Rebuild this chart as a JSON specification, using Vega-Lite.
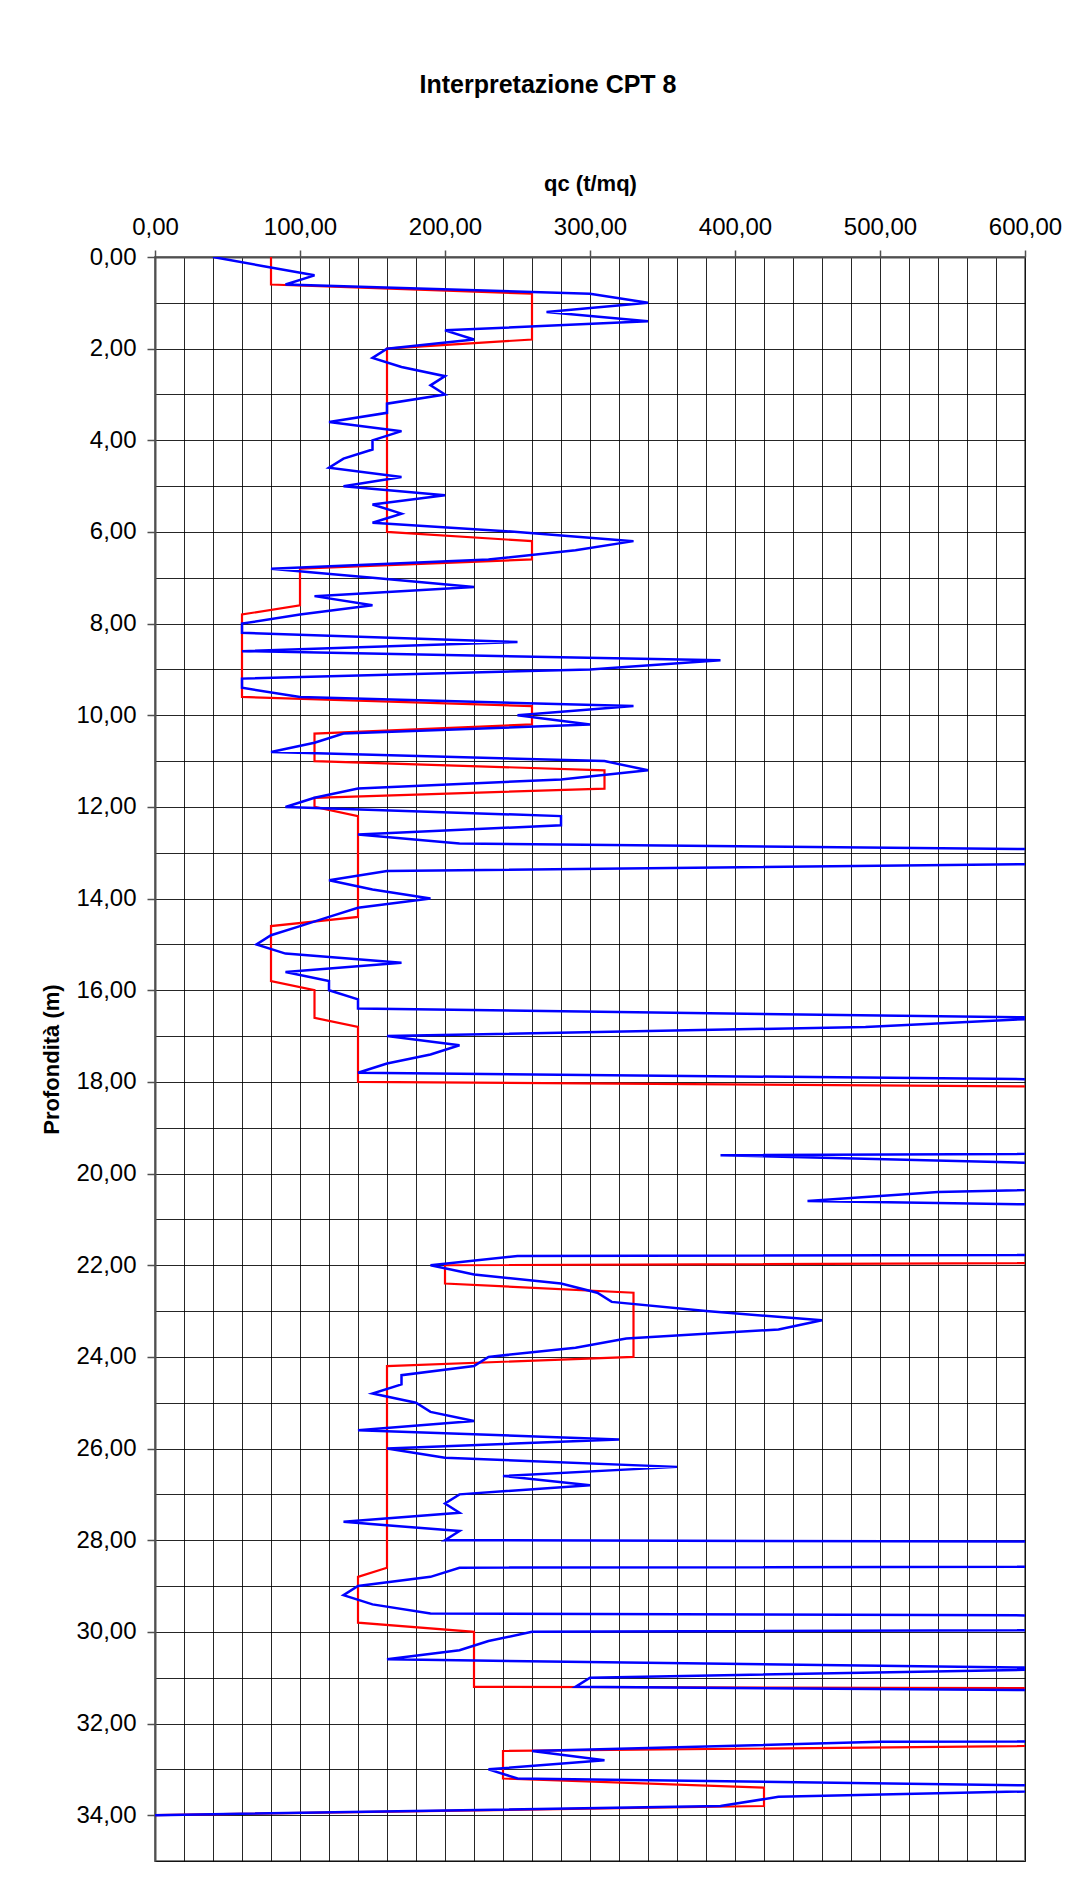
{
  "$schema": "https://vega.github.io/schema/vega-lite/v6.json",
  "width": 870,
  "height": 1604,
  "autosize": {"type": "none"},
  "padding": {"left": 155, "top": 257, "right": 52, "bottom": 34},
  "background": "white",
  "title": {"text": "Interpretazione CPT 8", "frame": "group", "anchor": "middle", "dx": -42, "offset": 74, "fontSize": 25, "font": "Liberation Sans", "fontWeight": "bold", "color": "#000000"},
  "datasets": {
    "qc": [
      {"z": 0.0, "qc": 40}, {"z": 0.2, "qc": 75}, {"z": 0.4, "qc": 110}, {"z": 0.6, "qc": 90}, {"z": 0.8, "qc": 300},
      {"z": 1.0, "qc": 340}, {"z": 1.2, "qc": 270}, {"z": 1.4, "qc": 340}, {"z": 1.6, "qc": 200}, {"z": 1.8, "qc": 220},
      {"z": 2.0, "qc": 160}, {"z": 2.2, "qc": 150}, {"z": 2.4, "qc": 170}, {"z": 2.6, "qc": 200}, {"z": 2.8, "qc": 190},
      {"z": 3.0, "qc": 200}, {"z": 3.2, "qc": 160}, {"z": 3.4, "qc": 160}, {"z": 3.6, "qc": 120}, {"z": 3.8, "qc": 170},
      {"z": 4.0, "qc": 150}, {"z": 4.2, "qc": 150}, {"z": 4.4, "qc": 130}, {"z": 4.6, "qc": 120}, {"z": 4.8, "qc": 170},
      {"z": 5.0, "qc": 130}, {"z": 5.2, "qc": 200}, {"z": 5.4, "qc": 150}, {"z": 5.6, "qc": 170}, {"z": 5.8, "qc": 150},
      {"z": 6.0, "qc": 250}, {"z": 6.2, "qc": 330}, {"z": 6.4, "qc": 290}, {"z": 6.6, "qc": 230}, {"z": 6.8, "qc": 80},
      {"z": 7.0, "qc": 150}, {"z": 7.2, "qc": 220}, {"z": 7.4, "qc": 110}, {"z": 7.6, "qc": 150}, {"z": 7.8, "qc": 100},
      {"z": 8.0, "qc": 60}, {"z": 8.2, "qc": 60}, {"z": 8.4, "qc": 250}, {"z": 8.6, "qc": 60}, {"z": 8.8, "qc": 390},
      {"z": 9.0, "qc": 300}, {"z": 9.2, "qc": 60}, {"z": 9.4, "qc": 60}, {"z": 9.6, "qc": 100}, {"z": 9.8, "qc": 330},
      {"z": 10.0, "qc": 250}, {"z": 10.2, "qc": 300}, {"z": 10.4, "qc": 130}, {"z": 10.6, "qc": 110}, {"z": 10.8, "qc": 80},
      {"z": 11.0, "qc": 310}, {"z": 11.2, "qc": 340}, {"z": 11.4, "qc": 280}, {"z": 11.6, "qc": 140}, {"z": 11.8, "qc": 110},
      {"z": 12.0, "qc": 90}, {"z": 12.2, "qc": 280}, {"z": 12.4, "qc": 280}, {"z": 12.6, "qc": 140}, {"z": 12.8, "qc": 210},
      {"z": 13.0, "qc": 870}, {"z": 13.2, "qc": 750}, {"z": 13.4, "qc": 160}, {"z": 13.6, "qc": 120}, {"z": 13.8, "qc": 150},
      {"z": 14.0, "qc": 190}, {"z": 14.2, "qc": 140}, {"z": 14.4, "qc": 120}, {"z": 14.6, "qc": 100}, {"z": 14.8, "qc": 80},
      {"z": 15.0, "qc": 70}, {"z": 15.2, "qc": 90}, {"z": 15.4, "qc": 170}, {"z": 15.6, "qc": 90}, {"z": 15.8, "qc": 120},
      {"z": 16.0, "qc": 120}, {"z": 16.2, "qc": 140}, {"z": 16.4, "qc": 140}, {"z": 16.6, "qc": 620}, {"z": 16.8, "qc": 490},
      {"z": 17.0, "qc": 160}, {"z": 17.2, "qc": 210}, {"z": 17.4, "qc": 190}, {"z": 17.6, "qc": 160}, {"z": 17.8, "qc": 140},
      {"z": 18.0, "qc": 800}, {"z": 18.2, "qc": 1200}, {"z": 18.4, "qc": 1400}, {"z": 18.6, "qc": 1300}, {"z": 18.8, "qc": 1500},
      {"z": 19.0, "qc": 1600}, {"z": 19.2, "qc": 1700}, {"z": 19.4, "qc": 1800}, {"z": 19.6, "qc": 390}, {"z": 19.8, "qc": 650},
      {"z": 20.0, "qc": 1100}, {"z": 20.2, "qc": 840}, {"z": 20.4, "qc": 540}, {"z": 20.6, "qc": 450}, {"z": 20.8, "qc": 880},
      {"z": 21.0, "qc": 1500}, {"z": 21.2, "qc": 2000}, {"z": 21.4, "qc": 2500}, {"z": 21.6, "qc": 3500}, {"z": 21.8, "qc": 250},
      {"z": 22.0, "qc": 190}, {"z": 22.2, "qc": 220}, {"z": 22.4, "qc": 280}, {"z": 22.6, "qc": 305}, {"z": 22.8, "qc": 315},
      {"z": 23.0, "qc": 380}, {"z": 23.2, "qc": 460}, {"z": 23.4, "qc": 430}, {"z": 23.6, "qc": 325}, {"z": 23.8, "qc": 290},
      {"z": 24.0, "qc": 230}, {"z": 24.2, "qc": 220}, {"z": 24.4, "qc": 170}, {"z": 24.6, "qc": 170}, {"z": 24.8, "qc": 150},
      {"z": 25.0, "qc": 180}, {"z": 25.2, "qc": 190}, {"z": 25.4, "qc": 220}, {"z": 25.6, "qc": 140}, {"z": 25.8, "qc": 320},
      {"z": 26.0, "qc": 160}, {"z": 26.2, "qc": 200}, {"z": 26.4, "qc": 360}, {"z": 26.6, "qc": 240}, {"z": 26.8, "qc": 300},
      {"z": 27.0, "qc": 210}, {"z": 27.2, "qc": 200}, {"z": 27.4, "qc": 210}, {"z": 27.6, "qc": 130}, {"z": 27.8, "qc": 210},
      {"z": 28.0, "qc": 200}, {"z": 28.2, "qc": 2800}, {"z": 28.4, "qc": 4000}, {"z": 28.6, "qc": 210}, {"z": 28.8, "qc": 190},
      {"z": 29.0, "qc": 140}, {"z": 29.2, "qc": 130}, {"z": 29.4, "qc": 150}, {"z": 29.6, "qc": 190}, {"z": 29.8, "qc": 2200},
      {"z": 30.0, "qc": 260}, {"z": 30.2, "qc": 230}, {"z": 30.4, "qc": 210}, {"z": 30.6, "qc": 160}, {"z": 30.8, "qc": 650},
      {"z": 31.0, "qc": 300}, {"z": 31.2, "qc": 290}, {"z": 31.4, "qc": 1175}, {"z": 31.6, "qc": 1500}, {"z": 31.8, "qc": 2000},
      {"z": 32.0, "qc": 2500}, {"z": 32.2, "qc": 3000}, {"z": 32.4, "qc": 500}, {"z": 32.6, "qc": 260}, {"z": 32.8, "qc": 310},
      {"z": 33.0, "qc": 230}, {"z": 33.2, "qc": 250}, {"z": 33.4, "qc": 720}, {"z": 33.6, "qc": 430}, {"z": 33.8, "qc": 390},
      {"z": 34.0, "qc": 0}
    ],
    "interp": [
      {"z": 0.0, "qc": 80}, {"z": 0.6, "qc": 80}, {"z": 0.8, "qc": 260}, {"z": 1.8, "qc": 260}, {"z": 2.0, "qc": 160},
      {"z": 6.0, "qc": 160}, {"z": 6.2, "qc": 260}, {"z": 6.6, "qc": 260}, {"z": 6.8, "qc": 100}, {"z": 7.6, "qc": 100},
      {"z": 7.8, "qc": 60}, {"z": 9.6, "qc": 60}, {"z": 9.8, "qc": 260}, {"z": 10.2, "qc": 260}, {"z": 10.4, "qc": 110},
      {"z": 11.0, "qc": 110}, {"z": 11.2, "qc": 310}, {"z": 11.6, "qc": 310}, {"z": 11.8, "qc": 110}, {"z": 12.0, "qc": 110},
      {"z": 12.2, "qc": 140}, {"z": 14.4, "qc": 140}, {"z": 14.6, "qc": 80}, {"z": 15.8, "qc": 80}, {"z": 16.0, "qc": 110},
      {"z": 16.6, "qc": 110}, {"z": 16.8, "qc": 140}, {"z": 18.0, "qc": 140}, {"z": 18.2, "qc": 1070}, {"z": 21.8, "qc": 2000},
      {"z": 22.0, "qc": 200}, {"z": 22.4, "qc": 200}, {"z": 22.6, "qc": 330}, {"z": 24.0, "qc": 330}, {"z": 24.2, "qc": 160},
      {"z": 28.6, "qc": 160}, {"z": 28.8, "qc": 140}, {"z": 29.8, "qc": 140}, {"z": 30.0, "qc": 220}, {"z": 31.2, "qc": 220},
      {"z": 31.4, "qc": 3000}, {"z": 32.4, "qc": 900}, {"z": 32.6, "qc": 240}, {"z": 33.2, "qc": 240}, {"z": 33.4, "qc": 420},
      {"z": 33.8, "qc": 420}, {"z": 34.0, "qc": 0}
    ]
  },
  "config": {
    "view": {"stroke": "#808080", "strokeWidth": 2},
    "axis": {
      "labelFont": "Liberation Sans",
      "titleFont": "Liberation Sans",
      "labelColor": "#000000",
      "titleColor": "#000000",
      "labelFontSize": 24,
      "titleFontSize": 22,
      "titleFontWeight": "bold",
      "labelFlush": false,
      "labelOverlap": false,
      "gridColor": "#000000",
      "gridWidth": 1,
      "gridOpacity": 0.85,
      "domainColor": "#505050",
      "domainWidth": 2,
      "tickColor": "#505050",
      "tickWidth": 1.5
    }
  },
  "layer": [
    {
      "data": {"name": "interp"},
      "mark": {"type": "line", "color": "#FF0000", "strokeWidth": 2.2, "clip": true},
      "encoding": {
        "x": {
          "field": "qc", "type": "quantitative",
          "scale": {"domain": [0, 600], "nice": false, "zero": false},
          "axis": {"orient": "top", "values": [0,20,40,60,80,100,120,140,160,180,200,220,240,260,280,300,320,340,360,380,400,420,440,460,480,500,520,540,560,580,600], "grid": true, "labels": false, "ticks": false, "domain": false, "title": null}
        },
        "y": {
          "field": "z", "type": "quantitative",
          "scale": {"domain": [0, 35], "nice": false, "zero": false, "reverse": true},
          "axis": {"orient": "left", "values": [0,1,2,3,4,5,6,7,8,9,10,11,12,13,14,15,16,17,18,19,20,21,22,23,24,25,26,27,28,29,30,31,32,33,34,35], "grid": true, "labels": false, "ticks": false, "domain": false, "title": null}
        },
        "order": {"field": "z", "type": "quantitative"}
      }
    },
    {
      "data": {"name": "qc"},
      "mark": {"type": "line", "color": "#0000FF", "strokeWidth": 2.5, "clip": true},
      "encoding": {
        "x": {
          "field": "qc", "type": "quantitative",
          "scale": {"domain": [0, 600], "nice": false, "zero": false},
          "axis": {"orient": "top", "values": [0,100,200,300,400,500,600], "grid": false, "tickSize": 7, "labelPadding": 11, "labelExpr": "replace(format(datum.value, '.2f'), '.', ',')", "title": "qc (t/mq)", "titlePadding": 20}
        },
        "y": {
          "field": "z", "type": "quantitative",
          "scale": {"domain": [0, 35], "nice": false, "zero": false, "reverse": true},
          "axis": {"orient": "left", "values": [0,2,4,6,8,10,12,14,16,18,20,22,24,26,28,30,32,34], "grid": false, "tickSize": 8, "labelPadding": 11, "labelExpr": "replace(format(datum.value, '.2f'), '.', ',')", "title": "Profondità (m)", "titlePadding": 12}
        },
        "order": {"field": "z", "type": "quantitative"}
      }
    }
  ],
  "resolve": {"axis": {"x": "independent", "y": "independent"}}
}
